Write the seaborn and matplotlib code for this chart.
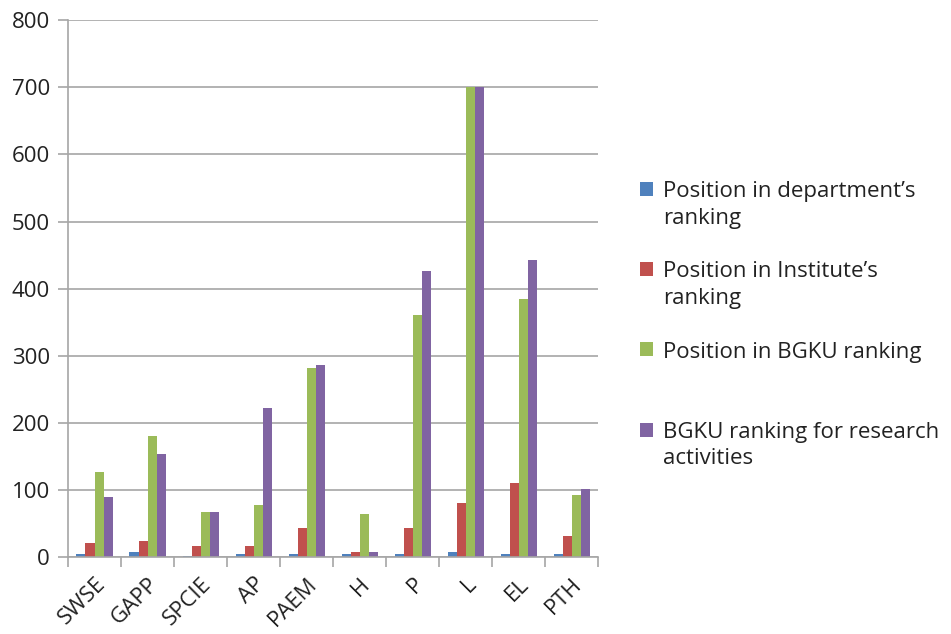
import seaborn as sns
import matplotlib.pyplot as plt
import matplotlib.patches as mpatches
from matplotlib.legend_handler import HandlerPatch
import pandas as pd

categories = ["SWSE", "GAPP", "SPCIE", "AP", "PAEM", "H", "P", "L", "EL", "PTH"]
dept_rank = [5, 7, 2, 4, 4, 4, 4, 7, 4, 4]
institute_rank = [21, 24, 17, 17, 43, 8, 43, 80, 111, 32]
bgku_rank = [127, 181, 67, 78, 282, 64, 361, 700, 384, 92]
research_rank = [90, 153, 67, 222, 286, 8, 426, 700, 442, 102]

series_names = ["Position in department\u2019s ranking",
                "Position in Institute\u2019s ranking",
                "Position in BGKU ranking",
                "BGKU ranking for research activities"]
# wrapped the way the legend shows them (every entry takes two lines of room)
legend_labels = ["Position in department\u2019s\nranking",
                 "Position in Institute\u2019s\nranking",
                 "Position in BGKU ranking\n ",
                 "BGKU ranking for research\nactivities"]
colors = ["#4F81BD", "#C0504D", "#9BBB59", "#8064A2"]

rows = []
for name, vals in zip(series_names, [dept_rank, institute_rank, bgku_rank, research_rank]):
    for cat, v in zip(categories, vals):
        rows.append({"category": cat, "series": name, "value": v})
df = pd.DataFrame(rows)

sns.set_style("white")
plt.rcParams['font.family'] = ['Open Sans', 'DejaVu Sans']
plt.rcParams['text.color'] = "#222222"

fig = plt.figure(figsize=(9.51, 6.34), dpi=100)
ax = fig.add_axes([0.0715, 0.1215, 0.5575, 0.8465])

sns.barplot(data=df, x="category", y="value", hue="series", palette=colors,
            width=0.68, saturation=1, linewidth=0, ax=ax)

ax.set_ylim(0, 800)
ax.set_xlim(-0.5, len(categories) - 0.5)
ax.set_yticks(range(0, 801, 100))
ax.yaxis.grid(True, color="#a6a6a6", linewidth=1.2)
ax.set_axisbelow(True)
ax.set_xlabel("")
ax.set_ylabel("")

for s in ["top", "right"]:
    ax.spines[s].set_visible(False)
for s in ["left", "bottom"]:
    ax.spines[s].set_color("#a6a6a6")
    ax.spines[s].set_linewidth(1.2)

ax.tick_params(axis="y", labelsize=16, length=7, width=1.2, color="#a6a6a6",
               direction="out", left=True, pad=6, labelcolor="#222222")
ax.tick_params(axis="x", which="major", length=0, labelsize=16, pad=12, labelcolor="#222222")
ax.set_xticks([i - 0.5 for i in range(len(categories) + 1)], minor=True)
ax.tick_params(axis="x", which="minor", length=7, color="#a6a6a6", width=1.2, bottom=True)
plt.setp(ax.get_xticklabels(), rotation=45, ha="right", rotation_mode="anchor")

LINESP = 1.35


# legend square sits beside the first line of the label
def top_square(legend, orig_handle, xdescent, ydescent, width, height, fontsize):
    shift = 0.5 * fontsize * LINESP * 1.08
    return mpatches.Rectangle((-xdescent, -ydescent + shift), width, height)


handles, _ = ax.get_legend_handles_labels()
ax.legend_.remove()
leg = fig.legend(handles, legend_labels, loc="center left", bbox_to_anchor=(0.652, 0.487),
                 frameon=False, fontsize=16, handlelength=0.6, handleheight=0.6,
                 handletextpad=0.45, labelspacing=1.47,
                 handler_map={mpatches.Rectangle: HandlerPatch(patch_func=top_square)})
for t in leg.get_texts():
    t.set_linespacing(LINESP)

fig.savefig("out.png", dpi=100)
